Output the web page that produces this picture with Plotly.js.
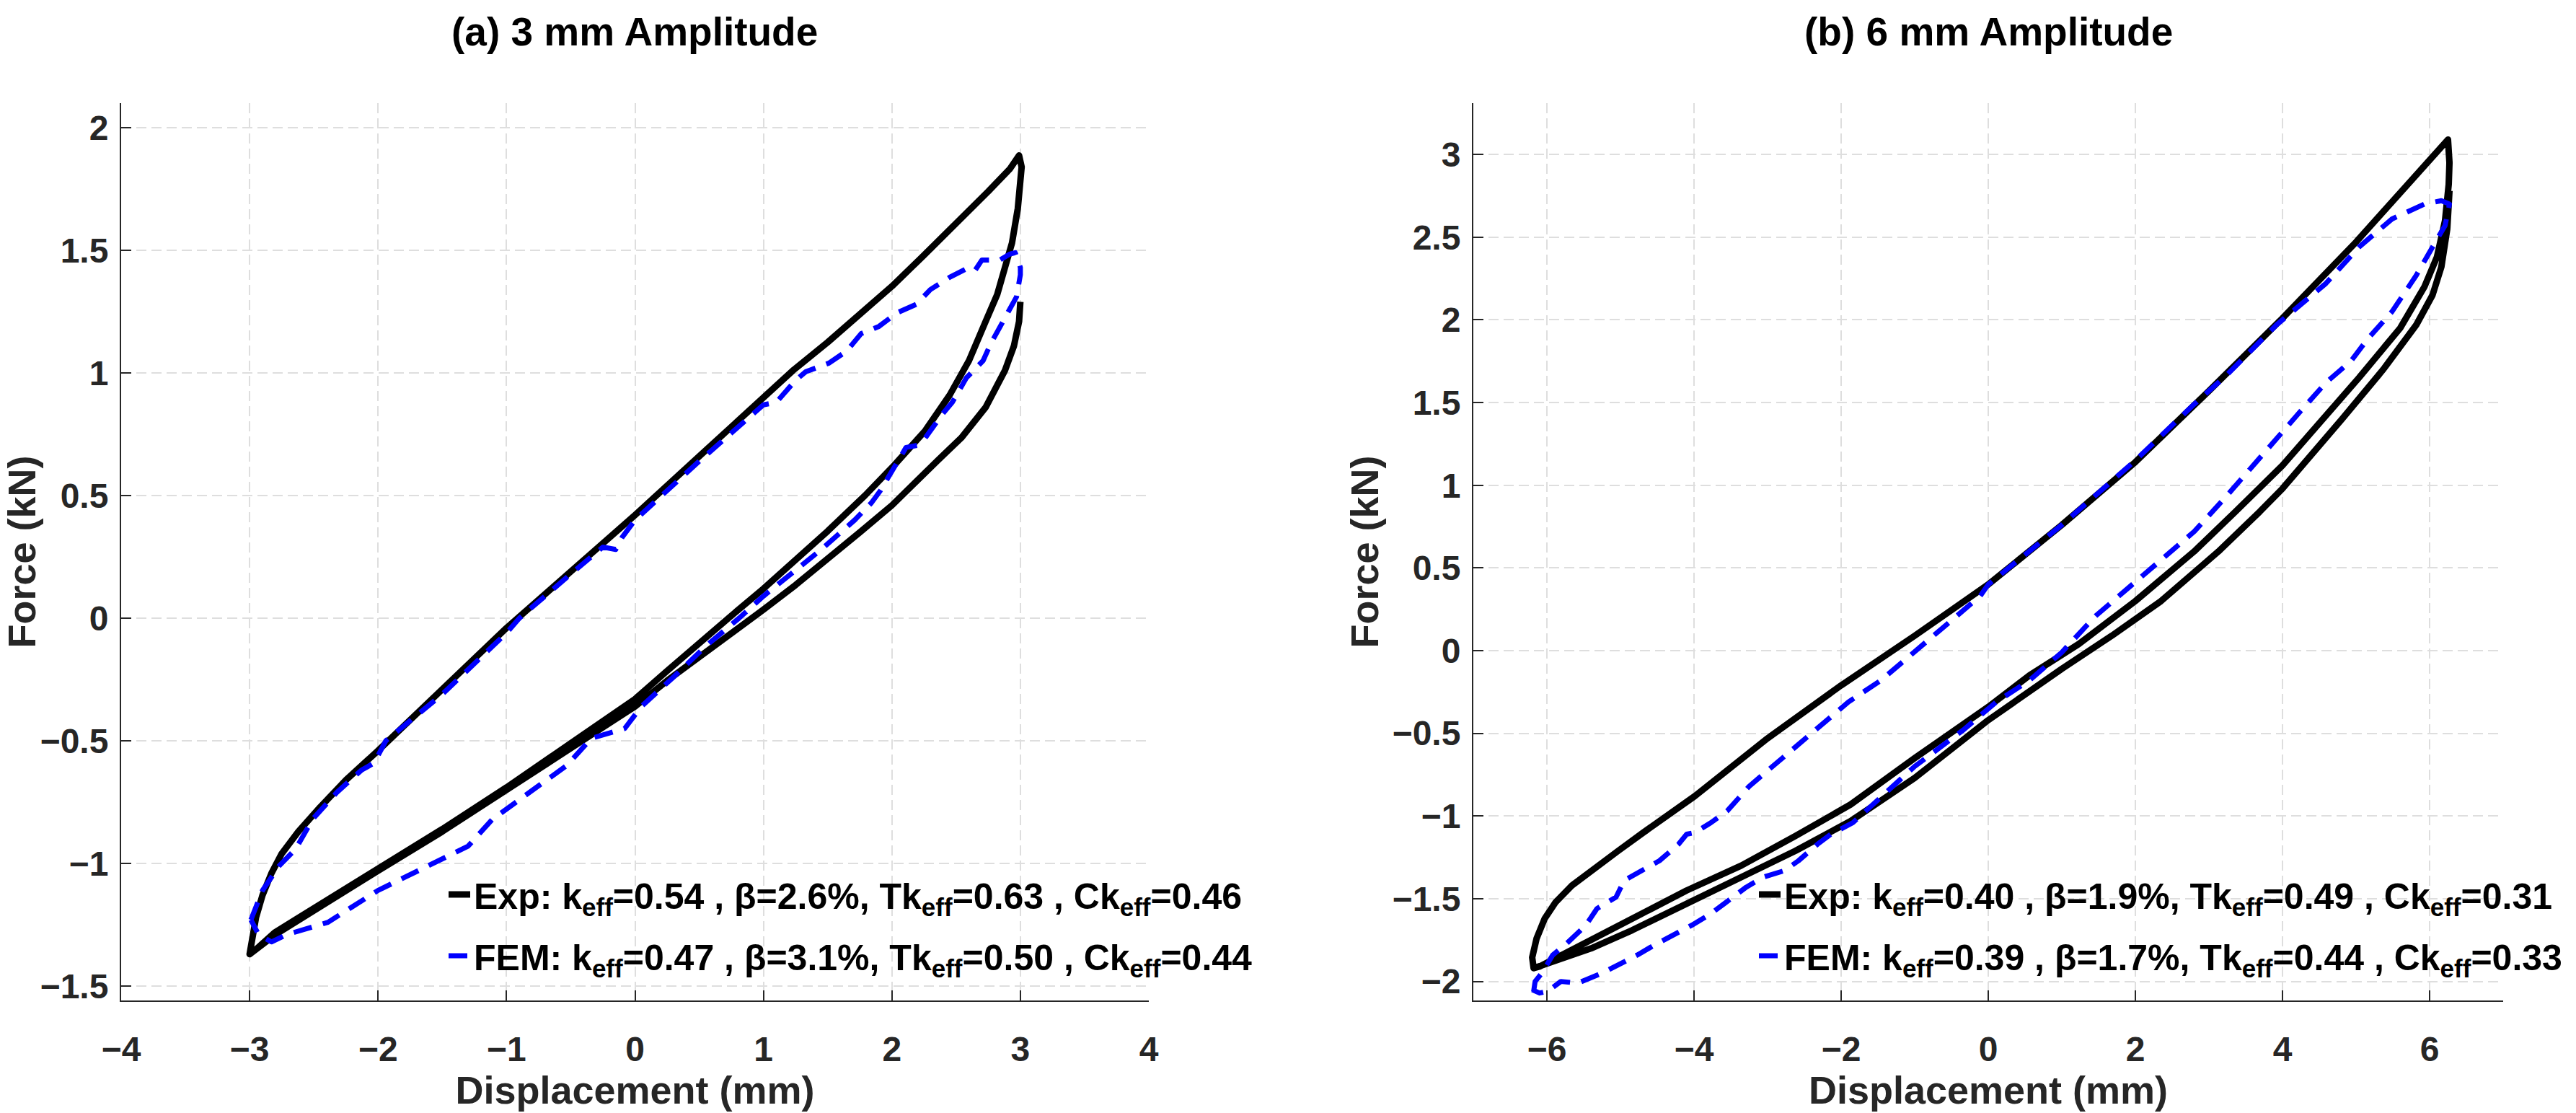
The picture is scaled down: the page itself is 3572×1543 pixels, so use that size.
<!DOCTYPE html>
<html>
<head>
<meta charset="utf-8">
<script src="https://cdn.plot.ly/plotly-3.0.1.min.js"></script>
<style>
html,body{margin:0;padding:0;background:#ffffff;}
#chart{width:3572px;height:1543px;}
path.js-line{stroke-linejoin:round !important;}
</style>
</head>
<body>
<div id="chart"></div>
<script>
// ---------- DATA (displacement mm, force kN) ----------
// (a) 3 mm amplitude, experiment: first (outer) unloading branch, loading branch, second (inner) unloading branch
const leftExpOuter = [[3.00,1.29],[2.99,1.21],[2.95,1.11],[2.88,1.01],[2.73,0.86],[2.54,0.735],[2.36,0.645],[2.11,0.52],[2.00,0.46],[1.75,0.35],[1.50,0.24],[1.25,0.135],[1.00,0.035],[0.75,-0.06],[0.50,-0.155],[0.25,-0.255],[0.00,-0.36],[-0.50,-0.53],[-1.00,-0.70],[-1.50,-0.87],[-2.00,-1.03],[-2.50,-1.19],[-2.80,-1.29],[-3.00,-1.37]];
const leftExpLoading = [[-2.98,-1.30],[-2.95,-1.22],[-2.90,-1.13],[-2.83,-1.04],[-2.75,-0.96],[-2.62,-0.87],[-2.45,-0.77],[-2.25,-0.66],[-2.00,-0.54],[-1.50,-0.29],[-1.00,-0.04],[-0.50,0.19],[0.00,0.42],[0.50,0.66],[1.00,0.90],[1.23,1.01],[1.50,1.125],[1.70,1.215],[2.00,1.353],[2.25,1.48],[2.54,1.627],[2.75,1.74],[2.92,1.833],[2.99,1.887]];
const leftExpInner = [[3.01,1.84],[2.98,1.67],[2.935,1.53],[2.88,1.43],[2.82,1.32],[2.73,1.21],[2.60,1.05],[2.45,0.91],[2.26,0.765],[2.02,0.625],[1.79,0.50],[1.50,0.355],[1.25,0.235],[1.00,0.12],[0.75,0.01],[0.50,-0.10],[0.25,-0.215],[0.00,-0.33],[-0.50,-0.51],[-1.00,-0.69],[-1.50,-0.86],[-2.00,-1.02],[-2.50,-1.18],[-2.80,-1.28],[-2.95,-1.35],[-3.00,-1.37]];
// (a) 3 mm amplitude, FEM loop
const leftFem = [[-2.99,-1.23],[-2.90,-1.11],[-2.77,-1.01],[-2.64,-0.94],[-2.51,-0.82],[-2.32,-0.71],[-2.13,-0.62],[-2.03,-0.59],[-1.94,-0.50],[-1.50,-0.31],[-1.00,-0.06],[-0.90,0.00],[-0.50,0.18],[-0.25,0.29],[-0.15,0.28],[-0.10,0.33],[0.00,0.40],[0.50,0.64],[1.00,0.87],[1.10,0.88],[1.25,0.97],[1.33,1.005],[1.51,1.04],[1.65,1.09],[1.76,1.16],[1.90,1.19],[2.04,1.245],[2.19,1.28],[2.30,1.34],[2.45,1.39],[2.60,1.43],[2.65,1.42],[2.70,1.46],[2.84,1.46],[2.92,1.485],[2.96,1.49],[3.00,1.43],[3.00,1.40],[2.97,1.31],[2.92,1.265],[2.82,1.17],[2.77,1.12],[2.71,1.05],[2.65,1.02],[2.58,0.98],[2.47,0.88],[2.39,0.83],[2.26,0.735],[2.21,0.706],[2.11,0.696],[2.02,0.618],[1.98,0.578],[1.91,0.52],[1.84,0.47],[1.71,0.40],[1.45,0.28],[1.26,0.20],[1.00,0.09],[0.81,0.00],[0.56,-0.11],[0.30,-0.24],[0.05,-0.36],[-0.08,-0.45],[-0.34,-0.49],[-0.53,-0.60],[-0.79,-0.70],[-1.11,-0.82],[-1.30,-0.93],[-1.62,-1.01],[-2.00,-1.11],[-2.39,-1.24],[-2.71,-1.29],[-2.83,-1.32],[-2.93,-1.29],[-2.99,-1.23]];

// (b) 6 mm amplitude, experiment
const rightExpOuter = [[6.27,2.78],[6.24,2.55],[6.16,2.32],[6.04,2.15],[5.82,1.97],[5.37,1.70],[4.81,1.40],[4.25,1.10],[4.00,0.98],[3.69,0.84],[3.13,0.60],[2.35,0.30],[1.68,0.09],[1.00,-0.11],[0.00,-0.42],[-1.00,-0.77],[-1.50,-0.92],[-1.87,-1.03],[-2.62,-1.21],[-3.36,-1.37],[-4.10,-1.53],[-4.84,-1.69],[-5.40,-1.80],[-5.96,-1.88],[-6.18,-1.92]];
const rightExpLoading = [[-6.20,-1.855],[-6.14,-1.74],[-6.03,-1.62],[-5.88,-1.52],[-5.66,-1.42],[-5.40,-1.33],[-5.03,-1.21],[-4.69,-1.10],[-4.32,-0.98],[-3.99,-0.88],[-3.00,-0.53],[-2.00,-0.21],[-1.00,0.09],[0.00,0.40],[1.00,0.76],[2.00,1.14],[3.00,1.57],[4.00,2.01],[5.00,2.47],[5.70,2.82],[6.16,3.04],[6.25,3.09]];
const rightExpInner = [[6.27,2.95],[6.26,2.82],[6.21,2.60],[6.10,2.38],[5.93,2.20],[5.60,1.95],[5.04,1.65],[4.48,1.36],[4.00,1.12],[3.36,0.84],[2.80,0.60],[2.00,0.30],[1.23,0.04],[0.56,-0.15],[0.00,-0.34],[-1.00,-0.65],[-1.87,-0.93],[-2.62,-1.12],[-3.36,-1.30],[-4.10,-1.45],[-4.84,-1.62],[-5.40,-1.75],[-5.84,-1.855],[-6.10,-1.91],[-6.18,-1.92]];
// (b) 6 mm amplitude, FEM loop
const rightFem = [[-6.18,-2.06],[-6.16,-2.00],[-6.07,-1.95],[-5.92,-1.84],[-5.73,-1.77],[-5.47,-1.66],[-5.32,-1.56],[-5.06,-1.49],[-4.95,-1.39],[-4.66,-1.32],[-4.47,-1.27],[-4.21,-1.17],[-4.10,-1.11],[-3.99,-1.10],[-3.77,-1.04],[-3.55,-0.97],[-3.32,-0.86],[-3.25,-0.82],[-2.80,-0.65],[-2.35,-0.48],[-1.90,-0.31],[-1.46,-0.18],[-1.00,-0.01],[-0.56,0.16],[-0.11,0.33],[0.00,0.40],[1.00,0.76],[2.00,1.15],[2.80,1.49],[3.25,1.67],[3.92,1.97],[4.59,2.22],[5.04,2.44],[5.49,2.61],[5.93,2.70],[6.16,2.72],[6.27,2.70],[6.21,2.57],[6.04,2.44],[5.82,2.27],[5.49,2.05],[5.15,1.88],[4.93,1.75],[4.59,1.62],[4.25,1.45],[3.92,1.28],[3.58,1.11],[3.25,0.94],[2.80,0.72],[2.35,0.55],[1.90,0.38],[1.46,0.21],[1.00,-0.01],[0.56,-0.18],[0.11,-0.31],[-0.34,-0.48],[-1.00,-0.70],[-1.40,-0.86],[-1.65,-0.97],[-1.84,-1.04],[-2.14,-1.11],[-2.32,-1.17],[-2.58,-1.27],[-2.77,-1.33],[-3.06,-1.37],[-3.29,-1.43],[-3.59,-1.53],[-3.77,-1.59],[-4.03,-1.66],[-4.25,-1.71],[-4.54,-1.78],[-4.77,-1.84],[-5.06,-1.91],[-5.25,-1.95],[-5.58,-2.01],[-5.81,-2.00],[-5.99,-2.06],[-6.10,-2.07],[-6.20,-2.05]];

// ---------- TEXT ----------
const panelTitles = ['(a) 3 mm Amplitude', '(b) 6 mm Amplitude'];
const xTitle = 'Displacement (mm)';
const yTitle = 'Force (kN)';
const legendLabels = [
  'Exp: k<sub>eff</sub>=0.54 , β=2.6%, Tk<sub>eff</sub>=0.63 , Ck<sub>eff</sub>=0.46',
  'FEM: k<sub>eff</sub>=0.47 , β=3.1%, Tk<sub>eff</sub>=0.50 , Ck<sub>eff</sub>=0.44',
  'Exp: k<sub>eff</sub>=0.40 , β=1.9%, Tk<sub>eff</sub>=0.49 , Ck<sub>eff</sub>=0.31',
  'FEM: k<sub>eff</sub>=0.39 , β=1.7%, Tk<sub>eff</sub>=0.44 , Ck<sub>eff</sub>=0.33'
];

// ---------- BUILD ----------
const FONT = 'Liberation Sans, Arial, Helvetica, sans-serif';
const xs = pts => pts.map(p => p[0]);
const ys = pts => pts.map(p => p[1]);
const join = (...parts) => parts.reduce((a, b) => a.concat(b), []);

const leftExp = join(leftExpOuter, leftExpLoading, leftExpInner);
const rightExp = join(rightExpOuter, rightExpLoading, rightExpInner);

const expLine = {color:'#000000', width:9};
const femLine = {color:'#0000ff', width:7, dash:'26px,16px'};

const traces = [
  {type:'scatter', mode:'lines', x:xs(leftExp), y:ys(leftExp), xaxis:'x', yaxis:'y', line:expLine, name:legendLabels[0], legend:'legend'},
  {type:'scatter', mode:'lines', x:xs(leftFem), y:ys(leftFem), xaxis:'x', yaxis:'y', line:femLine, name:legendLabels[1], legend:'legend2'},
  {type:'scatter', mode:'lines', x:xs(rightExp), y:ys(rightExp), xaxis:'x2', yaxis:'y2', line:expLine, name:legendLabels[2], legend:'legend3'},
  {type:'scatter', mode:'lines', x:xs(rightFem), y:ys(rightFem), xaxis:'x2', yaxis:'y2', line:femLine, name:legendLabels[3], legend:'legend4'}
];

function axis(extra) {
  const base = {
    showline:true, linecolor:'#262626', linewidth:2, mirror:false,
    ticks:'inside', ticklen:14, tickwidth:2, tickcolor:'#262626',
    showgrid:true, gridcolor:'#dedede', gridwidth:2, griddash:'14px,7px',
    zeroline:false, tick0:0,
    tickfont:{family:FONT, size:48, color:'#262626', weight:700},
    minor:{ticks:'inside', ticklen:7, tickwidth:2, tickcolor:'#262626', showgrid:false}
  };
  const out = Object.assign(base, extra);
  out.minor = Object.assign({}, base.minor, extra.minor || {});
  return out;
}
const titleFont = {family:FONT, size:54, color:'#262626', weight:700};
const W = 3572, H = 1543;
const yDom = [(H-1387)/H, (H-143)/H];

function legendAt(px, py) {
  return {x:px/W, y:1-py/H, xanchor:'left', yanchor:'middle', bgcolor:'rgba(0,0,0,0)', borderwidth:0,
          font:{family:FONT, size:50, color:'#000000', weight:700}};
}

const layout = {
  width:W, height:H,
  margin:{l:0, r:0, t:0, b:0},
  paper_bgcolor:'#ffffff', plot_bgcolor:'#ffffff',
  showlegend:true,
  xaxis: axis({domain:[168/W, 1593/W], range:[-4,4], dtick:1, minor:{dtick:0.2}, anchor:'y', ticklabelstandoff:24,
               title:{text:xTitle, font:titleFont, standoff:10}}),
  yaxis: axis({domain:yDom, range:[-1.5588, 2.1], dtick:0.5, minor:{dtick:0.1}, anchor:'x', ticklabelstandoff:6,
               title:{text:yTitle, font:titleFont, standoff:2}}),
  xaxis2: axis({domain:[2043/W, 3471/W], range:[-7,7], dtick:2, minor:{dtick:0.5}, anchor:'y2', ticklabelstandoff:24,
               title:{text:xTitle, font:titleFont, standoff:10}}),
  yaxis2: axis({domain:yDom, range:[-2.115, 3.31], dtick:0.5, minor:{dtick:0.1}, anchor:'x2', ticklabelstandoff:6,
               title:{text:yTitle, font:titleFont, standoff:2}}),
  legend: legendAt(617, 1240),
  legend2: legendAt(617, 1325),
  legend3: legendAt(2434, 1240),
  legend4: legendAt(2434, 1325),
  annotations: [
    {text:panelTitles[0], xref:'paper', yref:'paper', x:880/W, y:1-44/H, xanchor:'center', yanchor:'middle', showarrow:false,
     font:{family:FONT, size:55, color:'#000000', weight:700}},
    {text:panelTitles[1], xref:'paper', yref:'paper', x:2757/W, y:1-44/H, xanchor:'center', yanchor:'middle', showarrow:false,
     font:{family:FONT, size:55, color:'#000000', weight:700}}
  ]
};

Plotly.newPlot('chart', traces, layout, {displayModeBar:false, responsive:false});
</script>
</body>
</html>
